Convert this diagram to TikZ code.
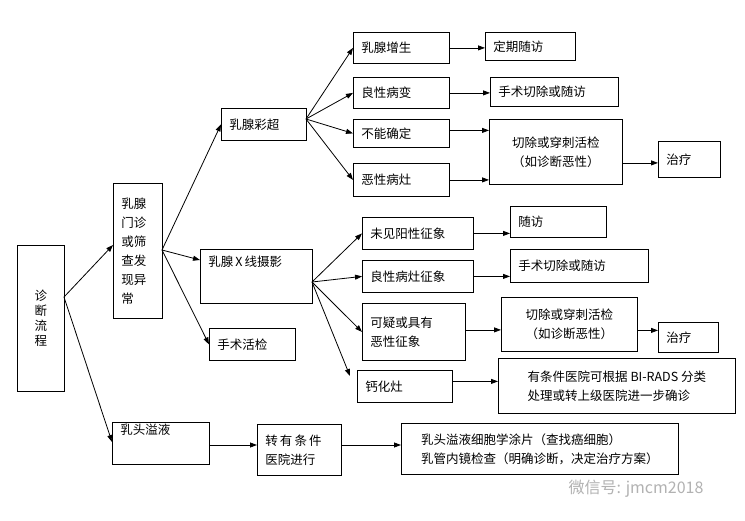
\documentclass[tikz,border=0pt]{standalone}
\usepackage{fontspec}
\setmainfont{Noto Sans CJK SC}
\usetikzlibrary{arrows.meta,calc}
\tikzset{
  box/.style={draw,thick,anchor=north west,inner sep=0pt,align=left,font=\fontsize{12.5}{19}\selectfont},
  arr/.style={-{Triangle[length=7pt,width=5pt]},line width=0.8pt}
}
\newcommand{\bx}[7][]{\node[box,minimum width=#5pt,minimum height=#6pt,text width=#5pt-16pt,#1] (#2) at (#3,#4) {#7};}
\begin{document}
\begin{tikzpicture}[x=1pt,y=-1pt]
\useasboundingbox[fill=white] (0,0) rectangle (745,520);
% column 1
\node[box,minimum width=47pt,minimum height=146pt,align=center,text width=14pt,font=\fontsize{12.5}{15}\selectfont] (zd) at (17,245) {诊\\断\\流\\程};
\bx{mz}{113}{183}{49}{135}{乳腺\\门诊\\或筛\\查发\\现异\\常}
\bx[text depth=28pt]{rt}{112}{422}{97}{42}{乳头溢液}
% column 2
\bx{cc}{221}{108}{85}{32}{乳腺彩超}
\bx[text depth=30pt]{xx}{200}{249}{112}{54}{乳腺\,X\,线摄影}
\bx{sh}{209}{328}{86}{32}{手术活检}
\bx{zy}{257}{424}{84}{51}{转\,有\,条\,件\\医院进行}
% ultrasound branch
\bx{a1}{353}{32}{96}{31}{乳腺增生}
\bx{a2}{353}{77}{96}{31}{良性病变}
\bx{a3}{353}{119}{96}{28}{不能确定}
\bx{a4}{353}{163}{96}{33}{恶性病灶}
\bx{b1}{485}{32}{90}{28}{定期随访}
\bx{b2}{490}{77}{128}{29}{手术切除或随访}
\node[box,minimum width=133pt,minimum height=65pt,align=center] (b3) at (489,119) {切除或穿刺活检\\（如诊断恶性）};
\bx{c1}{658}{141}{62}{36}{治疗}
% mammography branch
\bx{d1}{362}{217}{111}{32}{未见阳性征象}
\bx{d2}{362}{260}{111}{32}{良性病灶征象}
\bx{d3}{362}{303}{103}{57}{可疑或具有\\恶性征象}
\bx{d4}{357}{370}{95}{32}{钙化灶}
\bx{e1}{510}{206}{96}{31}{随访}
\bx{e2}{510}{249}{138}{33}{手术切除或随访}
\node[box,minimum width=136pt,minimum height=54pt,align=center] (e3) at (501,297) {切除或穿刺活检\\（如诊断恶性）};
\bx{f1}{658}{322}{60}{30}{治疗}
\node[box,minimum width=237pt,minimum height=55pt,align=left] (e4) at (498,358) {有条件医院可根据 BI-RADS 分类\\处理或转上级医院进一步确诊};
\node[box,minimum width=277pt,minimum height=51pt,align=left] (g1) at (401,423) {乳头溢液细胞学涂片（查找癌细胞）\\乳管内镜检查（明确诊断，决定治疗方案）};
\node[anchor=west,text=gray!60,font=\fontsize{16}{16}\selectfont] (wm) at (565,489) {微信号: jmcm2018};
% fan origins
\coordinate (o0) at (64,297);
\coordinate (o1) at (162,250);
\coordinate (o2) at (306,119);
\coordinate (o3) at (312,282);
\coordinate (t4) at (350,376);
\draw[arr] (o0) -- ($(mz.north west)+(0,62)$);
\draw[arr] (o0) -- ($(rt.north west)+(0,20)$);
\draw[arr] (o1) -- (cc.west);
\draw[arr] (o1) -- ($(xx.north west)+(0,11)$);
\draw[arr] (o1) -- (sh.west);
\foreach \t in {a1,a2,a3,a4} \draw[arr] (o2) -- (\t.west);
\foreach \t in {d1,d2,d3} \draw[arr] (o3) -- (\t.west);
\draw[arr] (o3) -- (t4);
\draw[arr] (a1.east) -- (a1.east -| b1.west);
\draw[arr] (a2.east) -- (a2.east -| b2.west);
\draw[arr] ($(a3.east)+(0,-3)$) -- ($(a3.east -| b3.west)+(0,-3)$);
\draw[arr] (a4.east) -- (a4.east -| b3.west);
\draw[arr] ($(b3.east)+(0,11)$) -- ($(b3.east -| c1.west)+(0,11)$);
\draw[arr] (d1.east) -- (d1.east -| e1.west);
\draw[arr] (d2.east) -- (d2.east -| e2.west);
\draw[arr] ($(d3.east)+(0,-2)$) -- ($(d3.east -| e3.west)+(0,-2)$);
\draw[arr] ($(e3.east)+(0,6)$) -- ($(e3.east -| f1.west)+(0,6)$);
\draw[arr] ($(d4.east)+(0,-5)$) -- ($(d4.east -| e4.west)+(0,-5)$);
\draw[arr] ($(rt.north east)+(0,23)$) -- ($(rt.north east -| zy.west)+(0,23)$);
\draw[arr] ($(zy.north east)+(0,21)$) -- ($(zy.north east -| g1.west)+(0,21)$);
\end{tikzpicture}
\end{document}
